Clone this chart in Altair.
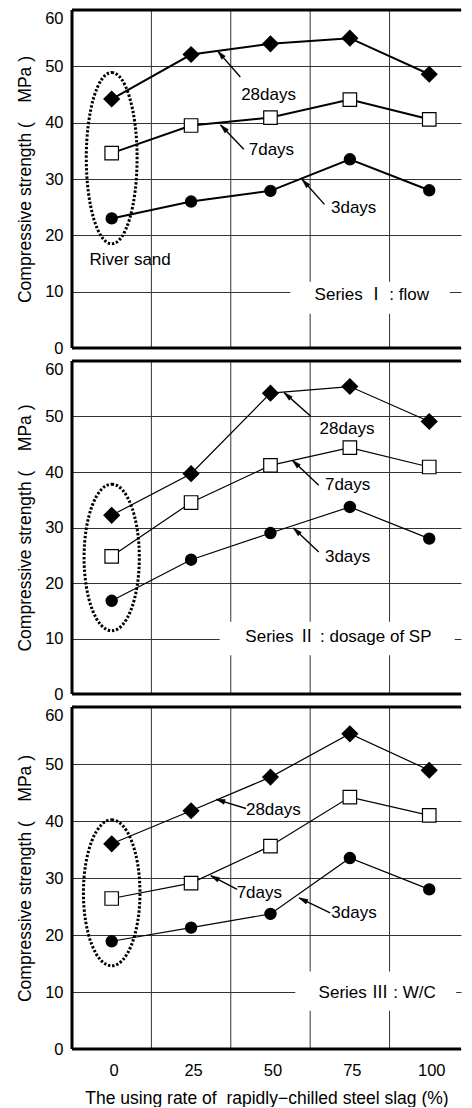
import math
import altair as alt
import pandas as pd

# ---------------- data ----------------
rates = [0, 25, 50, 75, 100]
ages = ["28days", "7days", "3days"]

p1_28 = [44.2, 52.1, 54.0, 55.0, 48.6]
p1_7 = [34.6, 39.5, 40.9, 44.1, 40.6]
p1_3 = [23.0, 26.0, 27.9, 33.5, 28.0]

p2_28 = [32.2, 39.7, 54.2, 55.4, 49.1]
p2_7 = [24.8, 34.5, 41.2, 44.4, 40.9]
p2_3 = [16.8, 24.2, 29.0, 33.7, 28.0]

p3_28 = [36.0, 41.8, 47.7, 55.3, 48.9]
p3_7 = [26.4, 29.1, 35.6, 44.2, 41.0]
p3_3 = [18.9, 21.3, 23.7, 33.5, 28.0]

series_titles = ["Series Ⅰ : flow", "Series Ⅱ : dosage of SP", "Series Ⅲ : W/C"]

# annotation label centres (data units)
p1_lab_x = [49.4, 50.3, 76.2]
p1_lab_y = [45.0, 35.1, 24.9]
p2_lab_x = [74.1, 74.3, 74.3]
p2_lab_y = [47.8, 37.6, 24.6]
p3_lab_x = [50.9, 46.5, 76.3]
p3_lab_y = [41.9, 27.4, 23.9]

# arrows: tail -> head (data units)
p1_tail_x = [40.5, 41.6, 67.0]
p1_tail_y = [48.1, 35.3, 25.5]
p1_head_x = [33.4, 34.3, 60.0]
p1_head_y = [52.7, 39.6, 29.9]
p2_tail_x = [62.6, 65.2, 65.2]
p2_tail_y = [50.1, 37.6, 25.6]
p2_head_x = [54.3, 56.9, 57.2]
p2_head_y = [54.3, 42.1, 29.9]
p3_tail_x = [42.3, 39.5, 68.8]
p3_tail_y = [42.2, 28.0, 23.9]
p3_head_x = [32.9, 31.2, 59.0]
p3_head_y = [43.8, 30.4, 26.5]

# dotted ellipse around river-sand points: centre y, y-bottom, y-top, x half width
ell_cy = [33.7, 24.6, 27.4]
ell_y0 = [18.4, 11.3, 14.6]
ell_y1 = [48.8, 37.7, 40.2]
ell_hw = [8.0, 8.7, 8.9]

# white box behind series titles
box_x0 = [56.25, 34.0, 57.8]
box_x1 = [106.5, 108.0, 108.5]
box_y0 = [6.1, 7.0, 6.7]
box_y1 = [11.75, 13.0, 13.6]
title_x = [81.9, 71.4, 83.6]
title_y = [9.4, 10.3, 9.9]

grid_x = [12.5, 37.5, 62.5, 87.5]
y_ticks = [0, 10, 20, 30, 40, 50, 60]

# ---------------- layout ----------------
W = 389
HEIGHTS = [338, 333, 342]
XDOM = [-12.5, 110.0]
YDOM = [0, 60]
FONT = "Liberation Sans, Noto Sans CJK KR"
LINE_W = [2.0, 1.2, 1.2]

panels = [
    (p1_28, p1_7, p1_3, p1_lab_x, p1_lab_y, p1_tail_x, p1_tail_y, p1_head_x, p1_head_y),
    (p2_28, p2_7, p2_3, p2_lab_x, p2_lab_y, p2_tail_x, p2_tail_y, p2_head_x, p2_head_y),
    (p3_28, p3_7, p3_3, p3_lab_x, p3_lab_y, p3_tail_x, p3_tail_y, p3_head_x, p3_head_y),
]

ARROW_PATH = "M0,0L0.6,2.2L-0.6,2.2Z"


def ellipse_path(a):
    k = 0.5523
    return (f"M0,-1C{k*a:.4f},-1 {a:.4f},{-k:.4f} {a:.4f},0"
            f"C{a:.4f},{k:.4f} {k*a:.4f},1 0,1"
            f"C{-k*a:.4f},1 {-a:.4f},{k:.4f} {-a:.4f},0"
            f"C{-a:.4f},{-k:.4f} {-k*a:.4f},-1 0,-1Z")


def make_panel(i):
    H = HEIGHTS[i]
    s28, s7, s3, lx, ly, tx, ty, hx, hy = panels[i]
    ppx = W / (XDOM[1] - XDOM[0])
    ppy = H / (YDOM[1] - YDOM[0])

    xs = alt.Scale(domain=XDOM, nice=False, zero=False)
    ys = alt.Scale(domain=YDOM, nice=False, zero=False)

    if i == 2:
        xaxis = alt.Axis(values=rates, grid=False, ticks=False, domain=False,
                         labelFontSize=16.5, labelFont=FONT, labelColor="black",
                         labelPadding=13, labelAngle=0, labelOffset=2,
                         title="The using rate of\u00a0\u00a0rapidly\u2212chilled steel slag (%)",
                         titleFont=FONT, titleFontSize=17.5, titleFontWeight="normal",
                         titleColor="black", titlePadding=11)
    else:
        xaxis = None
    yaxis = alt.Axis(values=y_ticks, grid=True, gridColor="#333",
                     gridWidth=1, ticks=False, domain=False,
                     labelFontSize=16.5, labelFont=FONT, labelColor="black",
                     labelPadding=9,
                     labelBaseline={"condition": {"test": "datum.value == 60", "value": "top"},
                                    "value": "middle"},
                     title="Compressive strength (\u00a0\u00a0\u00a0\u00a0MPa )",
                     titleFont=FONT, titleFontSize=17.5, titleFontWeight="normal",
                     titleColor="black", titlePadding=10)

    def X(f):
        return alt.X(f, scale=xs, axis=xaxis)

    def Y(f):
        return alt.Y(f, scale=ys, axis=yaxis)

    rows = []
    for age, vals in zip(ages, [s28, s7, s3]):
        for r, v in zip(rates, vals):
            rows.append({"rate": r, "val": v, "age": age})
    df = pd.DataFrame(rows)

    grid = alt.Chart(pd.DataFrame({"g": grid_x})).mark_rule(color="#333", strokeWidth=1).encode(
        x=X("g:Q")
    )

    box = alt.Chart(pd.DataFrame({"x0": [box_x0[i]], "x1": [box_x1[i]],
                                  "y0": [box_y0[i]], "y1": [box_y1[i]]})).mark_rect(
        fill="white", strokeWidth=0).encode(
        x=X("x0:Q"), x2="x1:Q", y=Y("y0:Q"), y2="y1:Q")

    # frame: left, bottom and top edges (right edge lies outside the picture)
    frame_h = alt.Chart(pd.DataFrame({"fy": YDOM})).mark_rule(color="black", strokeWidth=3).encode(
        y=Y("fy:Q"))
    frame_v = alt.Chart(pd.DataFrame({"fx": [XDOM[0]]})).mark_rule(color="black", strokeWidth=3).encode(
        x=X("fx:Q"))

    eh_px = (ell_y1[i] - ell_y0[i]) * ppy
    ew_px = ell_hw[i] * ppx
    ell = alt.Chart(pd.DataFrame({"x": [0], "y": [ell_cy[i]]})).mark_point(
        filled=False, stroke="black", strokeWidth=3, strokeDash=[2.4, 1.8], opacity=1,
        shape=ellipse_path(ew_px / (eh_px / 2)), size=eh_px ** 2).encode(
        x=X("x:Q"), y=Y("y:Q"))

    lines = alt.Chart(df).mark_line(color="black", strokeWidth=LINE_W[i]).encode(
        x=X("rate:Q"), y=Y("val:Q"), detail="age:N")

    pts = alt.Chart(df).mark_point(filled=True, stroke="black", strokeWidth=1.2, opacity=1).encode(
        x=X("rate:Q"), y=Y("val:Q"),
        shape=alt.Shape("age:N", scale=alt.Scale(domain=ages, range=["diamond", "square", "circle"]), legend=None),
        fill=alt.Fill("age:N", scale=alt.Scale(domain=ages, range=["black", "white", "black"]), legend=None),
        size=alt.Size("age:N", scale=alt.Scale(domain=ages, range=[240, 125, 150]), legend=None),
    )

    arr_rows = []
    for k in range(3):
        dxp = (hx[k] - tx[k]) * ppx
        dyp = -(hy[k] - ty[k]) * ppy
        ang = math.degrees(math.atan2(dxp, -dyp)) % 360
        arr_rows.append({"tx": tx[k], "ty": ty[k], "hx": hx[k], "hy": hy[k], "ang": ang,
                         "lab": ages[k], "lx": lx[k], "ly": ly[k]})
    adf = pd.DataFrame(arr_rows)

    shafts = alt.Chart(adf).mark_rule(color="black", strokeWidth=1.4).encode(
        x=X("tx:Q"), y=Y("ty:Q"), x2="hx:Q", y2="hy:Q")
    heads = alt.Chart(adf).mark_point(filled=True, fill="black", stroke="black", strokeWidth=0.5,
                                      opacity=1, shape=ARROW_PATH, size=64).encode(
        x=X("hx:Q"), y=Y("hy:Q"),
        angle=alt.Angle("ang:Q", scale=None))
    labels = alt.Chart(adf).mark_text(font=FONT, fontSize=17, color="black",
                                      align="center", baseline="middle").encode(
        x=X("lx:Q"), y=Y("ly:Q"), text="lab:N")

    stitle = alt.Chart(pd.DataFrame({"x": [title_x[i]], "y": [title_y[i]],
                                     "t": [series_titles[i]]})).mark_text(
        font=FONT, fontSize=17, color="black", align="center", baseline="middle").encode(
        x=X("x:Q"), y=Y("y:Q"), text="t:N")

    layers = [grid, box, frame_h, frame_v, ell, lines, pts, shafts, heads, labels, stitle]
    if i == 0:
        river = alt.Chart(pd.DataFrame({"x": [5.8], "y": [15.6], "t": ["River sand"]})).mark_text(
            font=FONT, fontSize=17, color="black", align="center", baseline="middle").encode(
            x=X("x:Q"), y=Y("y:Q"), text="t:N")
        layers.append(river)

    return alt.layer(*layers).properties(width=W, height=H)


chart = alt.vconcat(make_panel(0), make_panel(1), make_panel(2), spacing=13, bounds="flush").properties(
    padding={"left": 8, "top": 0, "right": 0, "bottom": 0},
    background="white",
).configure_view(stroke=None)

chart.save("out.html", embed_options={"renderer": "svg", "actions": False})
